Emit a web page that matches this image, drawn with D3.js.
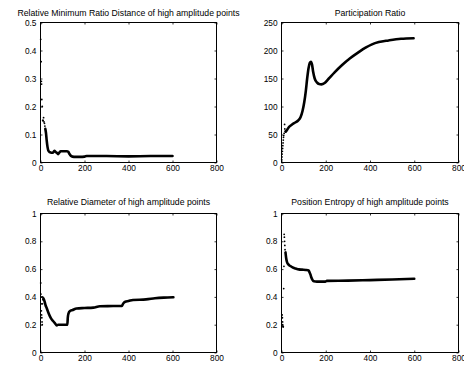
<!DOCTYPE html>
<html><head><meta charset="utf-8">
<script src="https://cdn.jsdelivr.net/npm/d3@7"></script>
<style>
body{margin:0;background:#fff;}
svg text{font-family:"Liberation Sans",Arial,Helvetica,sans-serif;}
</style></head>
<body><svg id="c" width="464" height="368"></svg>
<script>
// ---------- data ----------
const titles = [
  "Relative Minimum Ratio Distance of high amplitude points",
  "Participation Ratio",
  "Relative Diameter of high amplitude points",
  "Position Entropy of high amplitude points"
];
const xTicks = [0, 200, 400, 600, 800];
const yTicks1 = [0, 0.1, 0.2, 0.3, 0.4, 0.5];
const yTicks2 = [0, 50, 100, 150, 200, 250];
const yTicks3 = [0, 0.2, 0.4, 0.6, 0.8, 1];
const yTicks4 = [0, 0.2, 0.4, 0.6, 0.8, 1];

// main (dense) curves
const rmrdX = [22,25,28,32,36,42,50,58,63,68,74,80,86,92,100,110,120,126,132,138,145,160,180,200,210,300,400,500,600];
const rmrdY = [0.12,0.105,0.08,0.055,0.042,0.037,0.035,0.036,0.042,0.038,0.035,0.03,0.036,0.04,0.04,0.04,0.04,0.038,0.03,0.024,0.021,0.02,0.02,0.021,0.023,0.023,0.022,0.023,0.023];
// sparse early points
const rmrdDotX = [1,3,4,5,6,8,10,12,14,16,18,20];
const rmrdDotY = [0.44,0.36,0.29,0.28,0.225,0.2,0.15,0.15,0.16,0.145,0.14,0.13];

const prX = [19,25,33,45,60,75,86,95,103,110,116,122,128,133,138,143,150,160,170,180,195,214,240,274,310,349,380,409,440,484,540,597];
const prY = [55,58,63,67,71,75,81,92,108,128,150,168,178,180,175,162,150,143,140,139.5,142,150,161,174,186,197,205,211,215,218,221,222];
const prDotX = [1,2,3,4,5,6,7,8,9,10,12,14,15,17];
const prDotY = [5,10,15,20,25,30,35,40,45,48,52,68,60,56];

const rdX = [13,18,23,28,35,43,50,58,66,74,80,95,110,122,124,127,134,145,164,200,240,270,330,370,375,385,400,420,480,520,560,604];
const rdY = [0.39,0.37,0.34,0.32,0.29,0.26,0.24,0.225,0.21,0.195,0.2,0.2,0.2,0.2,0.25,0.28,0.298,0.305,0.317,0.32,0.323,0.333,0.334,0.335,0.35,0.365,0.37,0.378,0.382,0.39,0.395,0.398];
const rdDotX = [1,2,3,3,4,5,6,7,8,9,10,11];
const rdDotY = [0.5,0.42,0.4,0.35,0.3,0.27,0.25,0.22,0.2,0.35,0.4,0.38];

const peX = [18,21,25,32,40,50,63,78,93,110,123,127,131,135,140,146,160,198,205,300,400,500,600];
const peY = [0.72,0.68,0.65,0.632,0.622,0.612,0.605,0.598,0.596,0.594,0.59,0.575,0.56,0.54,0.522,0.512,0.51,0.51,0.515,0.517,0.521,0.525,0.531];
const peDotX = [3,4,5,5,6,7,8,10,11,12,13,14,15,16];
const peDotY = [0.27,0.25,0.22,0.2,0.19,0.185,0.185,0.46,0.62,0.85,0.83,0.8,0.77,0.74];

// ---------- layout ----------
const svg = d3.select("#c");
const panels = [
  {title:titles[0], x0:40.5, x1:216.5, y0:22.5, y1:162.5, ymax:0.5, yt:yTicks1, lx:rmrdX, ly:rmrdY, dx:rmrdDotX, dy:rmrdDotY, tb:15.5},
  {title:titles[1], x0:281.5, x1:458.5, y0:22.5, y1:162.5, ymax:250, yt:yTicks2, lx:prX, ly:prY, dx:prDotX, dy:prDotY, tb:15.5},
  {title:titles[2], x0:40.5, x1:216.5, y0:213.5, y1:352.5, ymax:1, yt:yTicks3, lx:rdX, ly:rdY, dx:rdDotX, dy:rdDotY, tb:205},
  {title:titles[3], x0:281.5, x1:458.5, y0:213.5, y1:352.5, ymax:1, yt:yTicks4, lx:peX, ly:peY, dx:peDotX, dy:peDotY, tb:205}
];
const fmt = d3.format("~g");

panels.forEach(p => {
  const x = d3.scaleLinear().domain([0,800]).range([p.x0,p.x1]);
  const y = d3.scaleLinear().domain([0,p.ymax]).range([p.y1,p.y0]);
  const g = svg.append("g");

  const styleAxis = sel => {
    sel.select(".domain").remove();
    sel.selectAll("line").attr("stroke","#000").attr("stroke-width",0.8);
    sel.selectAll("text").attr("font-size",8.3).attr("fill","#000")
      .attr("font-family","'Liberation Sans',Arial,Helvetica,sans-serif");
  };
  g.append("g").attr("transform",`translate(0,${p.y1})`)
    .call(d3.axisBottom(x).tickValues(xTicks).tickFormat(fmt).tickSizeInner(-2).tickSizeOuter(0).tickPadding(3))
    .call(styleAxis);
  g.append("g").attr("transform",`translate(0,${p.y0})`)
    .call(d3.axisTop(x).tickValues(xTicks).tickFormat("").tickSizeInner(-2).tickSizeOuter(0))
    .call(styleAxis);
  g.append("g").attr("transform",`translate(${p.x0},0)`)
    .call(d3.axisLeft(y).tickValues(p.yt).tickFormat(fmt).tickSizeInner(-2).tickSizeOuter(0).tickPadding(4))
    .call(styleAxis);
  g.append("g").attr("transform",`translate(${p.x1},0)`)
    .call(d3.axisRight(y).tickValues(p.yt).tickFormat("").tickSizeInner(-2).tickSizeOuter(0))
    .call(styleAxis);

  g.append("rect").attr("x",p.x0).attr("y",p.y0).attr("width",p.x1-p.x0).attr("height",p.y1-p.y0)
    .attr("fill","none").attr("stroke","#000").attr("stroke-width",1);

  const pts = p.lx.map((v,i)=>[v,p.ly[i]]);
  g.append("path").datum(pts)
    .attr("d", d3.line().x(d=>x(d[0])).y(d=>y(d[1])).curve(d3.curveMonotoneX))
    .attr("fill","none").attr("stroke","#000").attr("stroke-width",2.6)
    .attr("stroke-linejoin","round").attr("stroke-linecap","round");

  g.selectAll("circle.d").data(p.dx.map((v,i)=>[v,p.dy[i]])).enter().append("circle")
    .attr("cx",d=>x(d[0])).attr("cy",d=>y(d[1])).attr("r",0.9).attr("fill","#000");

  g.append("text").attr("x",(p.x0+p.x1)/2).attr("y",p.tb).attr("text-anchor","middle")
    .attr("font-size",8.7).attr("fill","#000").text(p.title);
});
</script></body></html>
